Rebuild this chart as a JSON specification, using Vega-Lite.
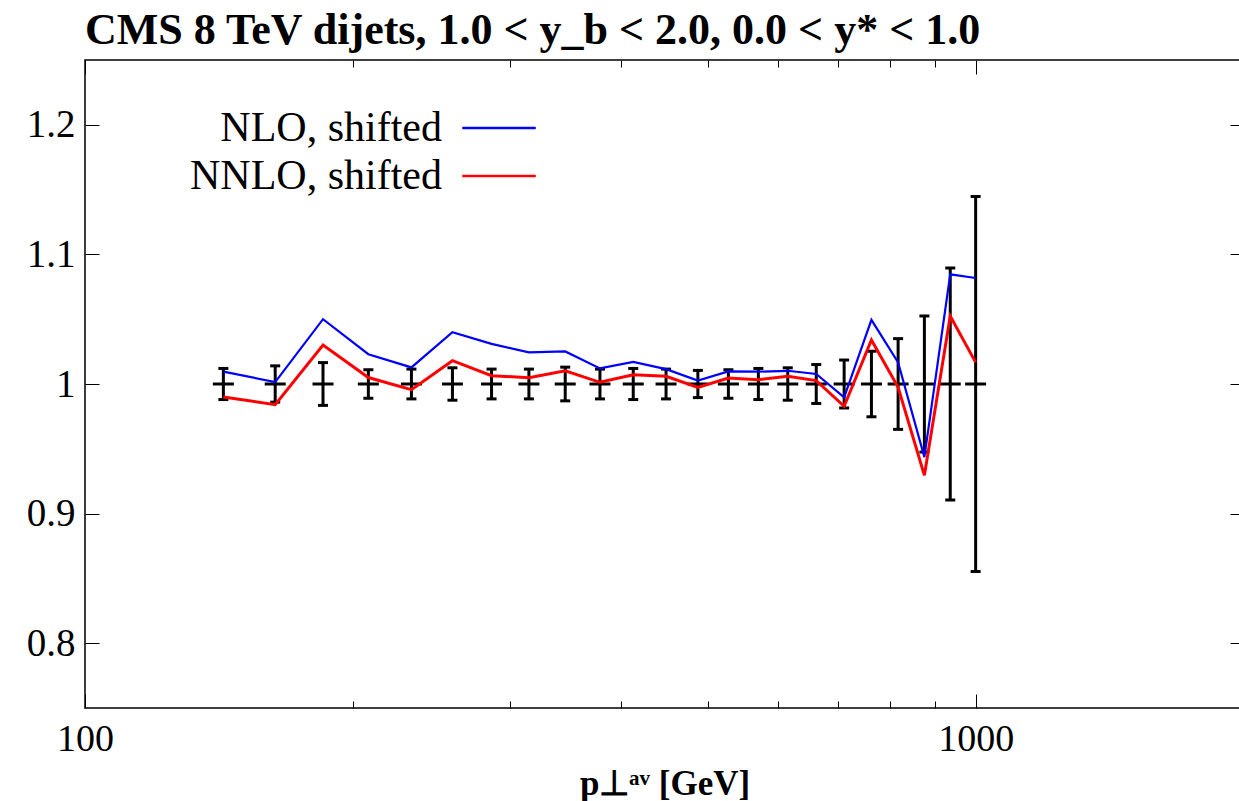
{
  "$schema": "https://vega.github.io/schema/vega-lite/v6.json",
  "width": 1159,
  "height": 648,
  "autosize": {"type": "none"},
  "padding": {"left": 85, "top": 60, "right": 0, "bottom": 93},
  "background": "white",
  "config": {
    "view": {"stroke": "black", "strokeWidth": 1.5},
    "font": "Liberation Serif"
  },
  "title": {
    "text": "CMS 8 TeV dijets, 1.0 < y_b < 2.0, 0.0 < y* < 1.0",
    "anchor": "start",
    "frame": "group",
    "font": "Liberation Serif",
    "fontSize": 44,
    "fontWeight": "bold",
    "color": "black",
    "offset": 7
  },
  "data": {
    "values": [
      {"pt": 143, "nlo": 1.0095, "nnlo": 0.990, "ratio": 1, "lo": 0.988, "hi": 1.012},
      {"pt": 163.5, "nlo": 1.0015, "nnlo": 0.984, "ratio": 1, "lo": 0.986, "hi": 1.014},
      {"pt": 185, "nlo": 1.050, "nnlo": 1.030, "ratio": 1, "lo": 0.9835, "hi": 1.0165},
      {"pt": 208, "nlo": 1.023, "nnlo": 1.005, "ratio": 1, "lo": 0.989, "hi": 1.011},
      {"pt": 232.5, "nlo": 1.0128, "nnlo": 0.9956, "ratio": 1, "lo": 0.9885, "hi": 1.0115},
      {"pt": 258.5, "nlo": 1.040, "nnlo": 1.018, "ratio": 1, "lo": 0.9875, "hi": 1.0125},
      {"pt": 286, "nlo": 1.031, "nnlo": 1.0064, "ratio": 1, "lo": 0.9885, "hi": 1.0115},
      {"pt": 315, "nlo": 1.0244, "nnlo": 1.0049, "ratio": 1, "lo": 0.9885, "hi": 1.0115},
      {"pt": 346, "nlo": 1.0251, "nnlo": 1.0102, "ratio": 1, "lo": 0.987, "hi": 1.013},
      {"pt": 378.5, "nlo": 1.012, "nnlo": 1.0013, "ratio": 1, "lo": 0.9885, "hi": 1.0115},
      {"pt": 412.5, "nlo": 1.017, "nnlo": 1.0072, "ratio": 1, "lo": 0.988, "hi": 1.012},
      {"pt": 449, "nlo": 1.0115, "nnlo": 1.006, "ratio": 1, "lo": 0.9885, "hi": 1.0115},
      {"pt": 487.5, "nlo": 1.0026, "nnlo": 0.9974, "ratio": 1, "lo": 0.9895, "hi": 1.0105},
      {"pt": 527.5, "nlo": 1.0097, "nnlo": 1.0046, "ratio": 1, "lo": 0.989, "hi": 1.011},
      {"pt": 570, "nlo": 1.0095, "nnlo": 1.0033, "ratio": 1, "lo": 0.988, "hi": 1.012},
      {"pt": 615, "nlo": 1.0102, "nnlo": 1.006, "ratio": 1, "lo": 0.9875, "hi": 1.0125},
      {"pt": 662, "nlo": 1.0077, "nnlo": 1.0026, "ratio": 1, "lo": 0.985, "hi": 1.015},
      {"pt": 711.5, "nlo": 0.9897, "nnlo": 0.9828, "ratio": 1, "lo": 0.9815, "hi": 1.0185},
      {"pt": 763.5, "nlo": 1.0495, "nnlo": 1.034, "ratio": 1, "lo": 0.9747, "hi": 1.0253},
      {"pt": 818, "nlo": 1.0167, "nnlo": 0.9975, "ratio": 1, "lo": 0.965, "hi": 1.035},
      {"pt": 875.5, "nlo": 0.9436, "nnlo": 0.9295, "ratio": 1, "lo": 0.9475, "hi": 1.0525},
      {"pt": 936, "nlo": 1.0846, "nnlo": 1.0525, "ratio": 1, "lo": 0.9105, "hi": 1.0895},
      {"pt": 999.5, "nlo": 1.0818, "nnlo": 1.0167, "ratio": 1, "lo": 0.8553, "hi": 1.1447}
    ]
  },
  "layer": [
    {
      "mark": {"type": "rule", "color": "black", "strokeWidth": 3},
      "encoding": {
        "x": {
          "field": "pt",
          "type": "quantitative",
          "scale": {"type": "log", "domain": [100, 2000], "nice": false},
          "axis": {
            "values": [100, 200, 300, 400, 500, 600, 700, 800, 900, 1000, 2000],
            "labelExpr": "(datum.value == 100 || datum.value == 1000) ? datum.value : ''",
            "title": "p⊥ᵃᵛ [GeV]",
            "titleFont": "Liberation Serif",
            "titleFontSize": 35,
            "titleFontWeight": "bold",
            "titleColor": "black",
            "titlePadding": 1,
            "labelFont": "Liberation Serif",
            "labelFontSize": 38,
            "labelColor": "black",
            "labelPadding": 26,
            "labelFlush": false,
            "labelOverlap": false,
            "domain": false,
            "grid": false,
            "tickColor": "black",
            "tickWidth": 1,
            "tickSize": {"condition": {"test": "datum.value == 100 || datum.value == 1000", "value": -14}, "value": -7}
          }
        },
        "y": {
          "field": "lo",
          "type": "quantitative",
          "scale": {"domain": [0.75, 1.25], "nice": false, "zero": false},
          "axis": {
            "values": [0.8, 0.9, 1, 1.1, 1.2],
            "labelExpr": "datum.value == 1 ? '1' : format(datum.value, '.1f')",
            "title": null,
            "labelFont": "Liberation Serif",
            "labelFontSize": 39,
            "labelColor": "black",
            "labelPadding": 24,
            "labelFlush": false,
            "domain": false,
            "grid": false,
            "tickColor": "black",
            "tickWidth": 1,
            "tickSize": -14
          }
        },
        "y2": {"field": "hi"}
      }
    },
    {
      "mark": {"type": "tick", "color": "black", "opacity": 1, "orient": "horizontal", "size": 10, "thickness": 3},
      "encoding": {
        "x": {"field": "pt", "type": "quantitative", "axis": null},
        "y": {"field": "lo", "type": "quantitative", "axis": null}
      }
    },
    {
      "mark": {"type": "tick", "color": "black", "opacity": 1, "orient": "horizontal", "size": 10, "thickness": 3},
      "encoding": {
        "x": {"field": "pt", "type": "quantitative", "axis": null},
        "y": {"field": "hi", "type": "quantitative", "axis": null}
      }
    },
    {
      "mark": {"type": "tick", "color": "black", "opacity": 1, "orient": "horizontal", "size": 21, "thickness": 3},
      "encoding": {
        "x": {"field": "pt", "type": "quantitative", "axis": null},
        "y": {"field": "ratio", "type": "quantitative", "axis": null}
      }
    },
    {
      "mark": {"type": "line", "strokeWidth": 2.2},
      "encoding": {
        "x": {"field": "pt", "type": "quantitative", "axis": null},
        "y": {"field": "nlo", "type": "quantitative", "axis": null},
        "color": {
          "datum": "NLO, shifted",
          "type": "nominal",
          "scale": {"domain": ["NLO, shifted", "NNLO, shifted"], "range": ["#0000ff", "#ff0000"]},
          "legend": {
            "title": null,
            "orient": "none",
            "legendX": 393,
            "legendY": 47,
            "padding": 0,
            "symbolType": "M-3,0H3",
            "symbolSize": 600,
            "symbolStrokeWidth": 2.5,
            "labelAlign": "right",
            "labelOffset": -78,
            "labelLimit": 0,
            "labelFont": "Liberation Serif",
            "labelFontSize": 42,
            "labelColor": "black",
            "rowPadding": 6
          }
        }
      }
    },
    {
      "mark": {"type": "line", "strokeWidth": 3},
      "encoding": {
        "x": {"field": "pt", "type": "quantitative", "axis": null},
        "y": {"field": "nnlo", "type": "quantitative", "axis": null},
        "color": {"datum": "NNLO, shifted", "type": "nominal"}
      }
    },
    {
      "mark": {"type": "rule", "opacity": 0},
      "encoding": {
        "y": {
          "field": "ratio",
          "type": "quantitative",
          "axis": {
            "orient": "right",
            "values": [0.8, 0.9, 1, 1.1, 1.2],
            "labels": false,
            "title": null,
            "domain": false,
            "grid": false,
            "tickColor": "black",
            "tickWidth": 1,
            "tickSize": -14
          }
        },
        "x": {
          "field": "pt",
          "type": "quantitative",
          "axis": {
            "orient": "top",
            "values": [100, 200, 300, 400, 500, 600, 700, 800, 900, 1000, 2000],
            "labels": false,
            "title": null,
            "domain": false,
            "grid": false,
            "tickColor": "black",
            "tickWidth": 1,
            "tickSize": {"condition": {"test": "datum.value == 100 || datum.value == 1000", "value": -14}, "value": -7}
          }
        }
      }
    }
  ],
  "resolve": {"axis": {"x": "independent", "y": "independent"}}
}
